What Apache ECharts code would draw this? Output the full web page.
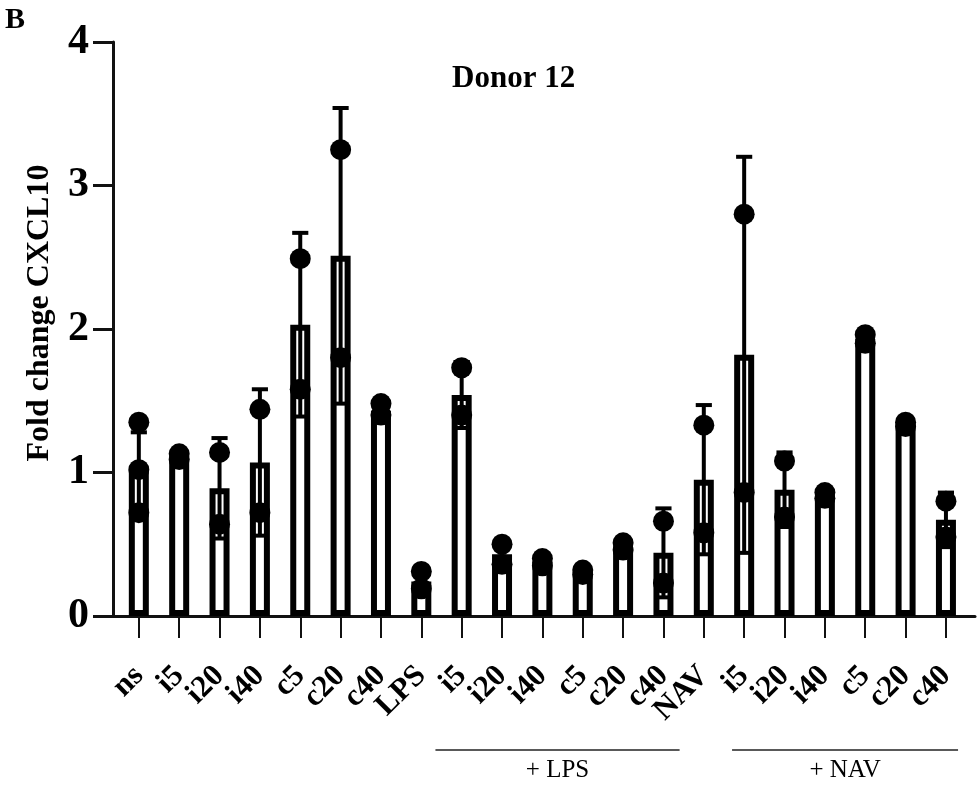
<!DOCTYPE html>
<html><head><meta charset="utf-8">
<script src="https://cdn.jsdelivr.net/npm/echarts@6/dist/echarts.min.js"></script>
<style>html,body{margin:0;padding:0;background:#fff}#c{width:980px;height:787px}</style>
</head><body><div id="c"></div>
<script>
const categories = ['ns','i5','i20','i40','c5','c20','c40','LPS','i5','i20','i40','c5','c20','c40','NAV','i5','i20','i40','c5','c20','c40'];
const means = [1.02,1.10,0.89,1.07,2.03,2.51,1.43,0.24,1.54,0.43,0.38,0.31,0.48,0.44,0.95,1.82,0.88,0.84,1.93,1.33,0.67];
const sds   = [0.26,0.03,0.35,0.51,0.64,1.03,0.05,0.08,0.23,0.10,0.05,0.03,0.04,0.31,0.52,1.38,0.26,0.03,0.05,0.02,0.19];
const points = [
  [1.35,1.02,0.72],[1.13,1.09],[1.14,0.64],[1.44,0.72],[2.49,1.58],[3.25,1.80],[1.48,1.40],
  [0.31,0.19],[1.73,1.40],[0.50,0.36],[0.40,0.35],[0.32,0.29],[0.51,0.46],[0.66,0.23],
  [1.33,0.58],[2.80,0.86],[1.08,0.69],[0.86,0.82],[1.96,1.90],[1.35,1.32],[0.80,0.55]
];
const yTicks = [0,1,2,3,4];
const groups = [
  {label:'+ LPS', from:7.35, to:13.4},
  {label:'+ NAV', from:14.7, to:20.3}
];
const title = 'Donor 12';
const yName = 'Fold change CXCL10';
const panel = 'B';

const serif = '"Liberation Serif","Times New Roman",serif';
const chart = echarts.init(document.getElementById('c'), null, {renderer:'canvas'});
const idx = categories.map((_, i) => i);
const xMin = -0.64, xMax = 20.72;
// trailing blank label at the axis end so the min/max overlap check never drops a real label
const labelValues = idx.concat([xMax]);

chart.setOption({
  animation:false,
  backgroundColor:'#fff',
  title:[
    {text:panel, left:0, top:0, textStyle:{fontFamily:serif, fontSize:30, fontWeight:'bold', color:'#000'}},
    {text:title, left:447, top:58, textStyle:{fontFamily:serif, fontSize:31, fontWeight:'bold', color:'#000'}}
  ],
  grid:{left:113, right:5, top:42, bottom:171, containLabel:false, outerBoundsMode:'none'},
  xAxis:{
    type:'value', min:xMin, max:xMax,
    splitLine:{show:false},
    axisLine:{show:true, onZero:false, lineStyle:{color:'#111', width:3}},
    axisTick:{show:true, customValues:idx, length:22, inside:false, lineStyle:{color:'#111', width:2}},
    axisLabel:{show:true, customValues:labelValues, rotate:45, margin:55, showMinLabel:true, showMaxLabel:true, hideOverlap:false,
      formatter:(v)=>{ const r = Math.round(v); return (Math.abs(v-r)<1e-6 && categories[r]) ? categories[r] : ''; },
      fontFamily:serif, fontSize:31, lineHeight:22, fontWeight:'bold', color:'#000'}
  },
  yAxis:{
    type:'value', min:0, max:4, interval:1,
    splitLine:{show:false},
    axisLine:{show:true, onZero:false, lineStyle:{color:'#111', width:3}},
    axisTick:{show:true, length:20, lineStyle:{color:'#111', width:3}},
    axisLabel:{margin:24, fontFamily:serif, fontSize:42, fontWeight:'bold', color:'#000',
      formatter:(v)=> yTicks.includes(v) ? String(v) : ''},
    name:yName, nameLocation:'middle', nameGap:57,
    nameTextStyle:{fontFamily:serif, fontSize:32, fontWeight:'bold', color:'#000', padding:[0,0,0,32]}
  },
  series:[
    {
      type:'bar', barWidth:20, z:2,
      data: means.map((m,i)=>[i,m]),
      itemStyle:{color:'#fff', borderColor:'#000', borderWidth:6}
    },
    {
      type:'custom', z:3,
      data: means.map((m,i)=>[i,m,sds[i]]),
      renderItem:(params, api)=>{
        const x = api.value(0), m = api.value(1), s = api.value(2);
        const top = api.coord([x, m+s]);
        const bot = api.coord([x, Math.max(0, m-s)]);
        const cw = api.size([1,0])[0]*0.4;
        const st = {stroke:'#000', lineWidth:4};
        return {type:'group', children:[
          {type:'line', shape:{x1:top[0], y1:top[1], x2:bot[0], y2:bot[1]}, style:st},
          {type:'line', shape:{x1:top[0]-cw/2, y1:top[1], x2:top[0]+cw/2, y2:top[1]}, style:st},
          {type:'line', shape:{x1:bot[0]-cw/2, y1:bot[1], x2:bot[0]+cw/2, y2:bot[1]}, style:st}
        ]};
      }
    },
    {
      type:'scatter', z:4, symbol:'circle', symbolSize:21,
      data: points.flatMap((arr,i)=>arr.map(v=>[i,v])),
      itemStyle:{color:'#000', opacity:1}
    }
  ]
});

// group brackets under the axis, positioned through the axis scale
const g = [];
const yLine = chart.getHeight() - 37;
groups.forEach(gr=>{
  const x1 = chart.convertToPixel({xAxisIndex:0}, gr.from);
  const x2 = chart.convertToPixel({xAxisIndex:0}, gr.to);
  g.push({type:'line', shape:{x1:x1, y1:yLine, x2:x2, y2:yLine}, style:{stroke:'#222', lineWidth:1.5}});
  g.push({type:'text', x:(x1+x2)/2, y:yLine+20, style:{text:gr.label, fill:'#000', font:'25px '+serif, align:'center', verticalAlign:'middle'}});
});
chart.setOption({graphic:g});
</script>
</body></html>
